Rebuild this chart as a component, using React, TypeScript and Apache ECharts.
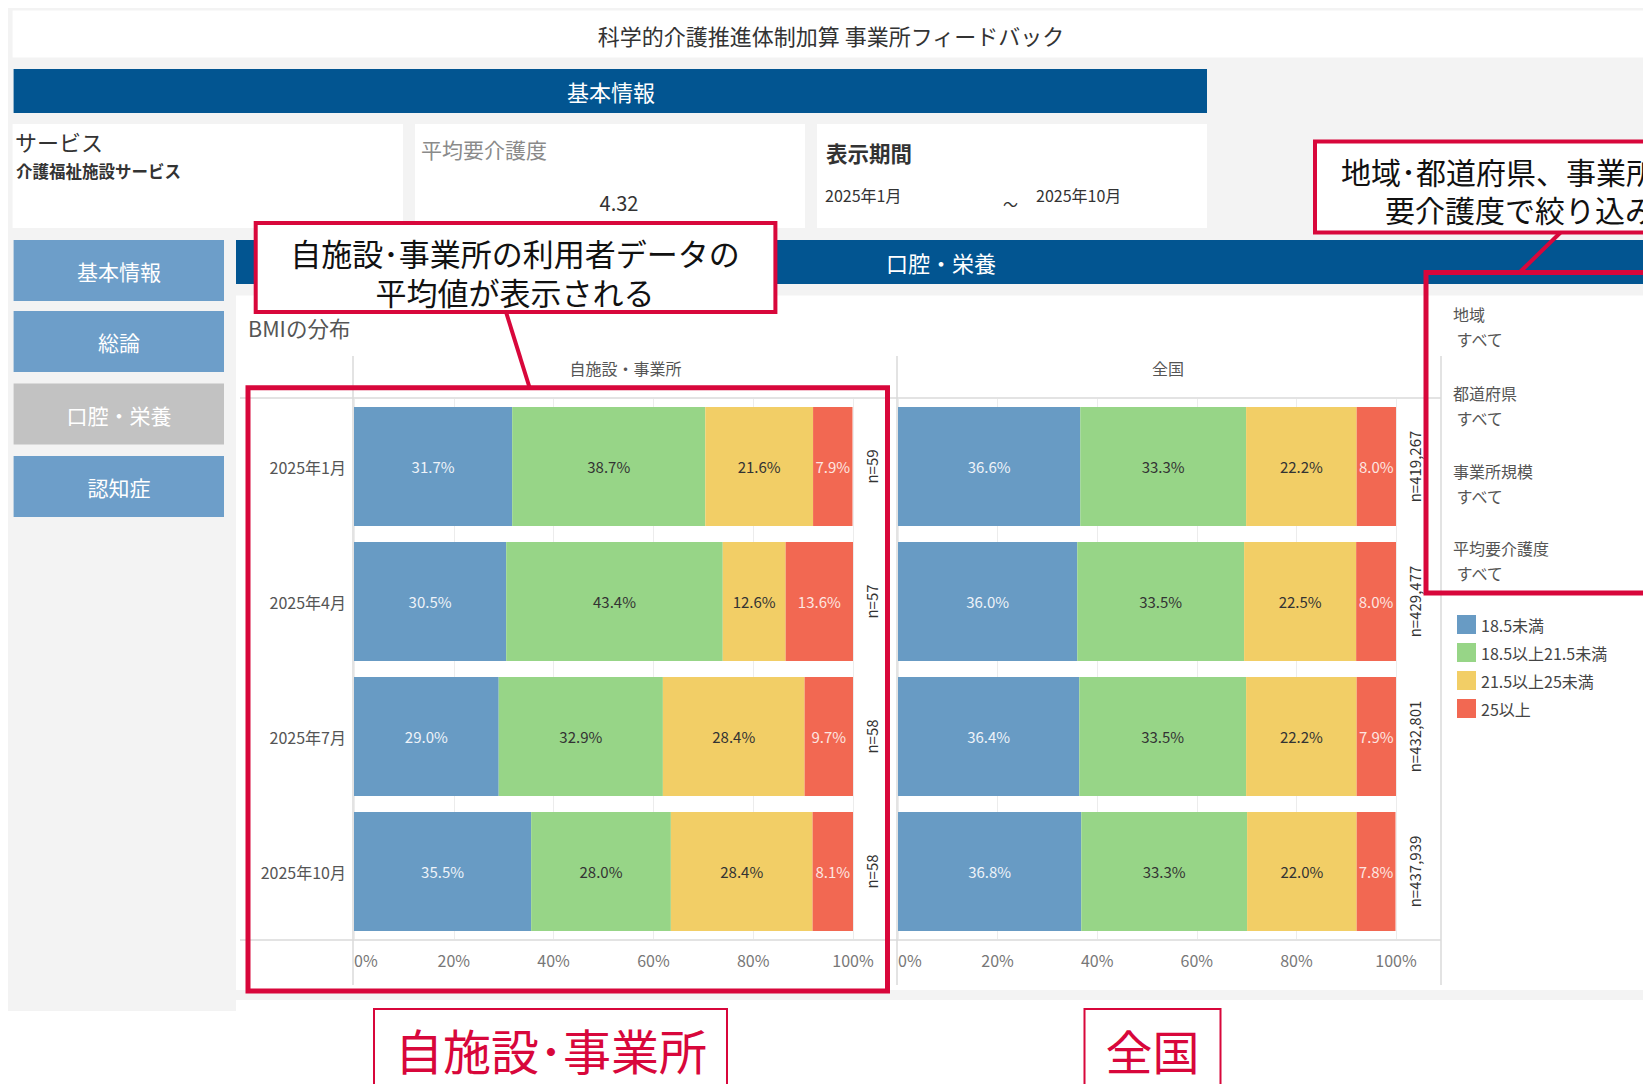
import React, { useEffect, useRef } from "react";
import * as echarts from "echarts";

const FONT = "'Noto Sans CJK JP', 'Noto Sans', sans-serif";

// ---- data ----
const months = ["2025年1月", "2025年4月", "2025年7月", "2025年10月"];
const bmiClasses = ["18.5未満", "18.5以上21.5未満", "21.5以上25未満", "25以上"];
const classColors = ["#689bc4", "#97d587", "#f2ce66", "#f26852"];
const labelColors = ["#eef3f9", "#333333", "#333333", "#fde6e1"];

const ownUnder185 = [31.7, 30.5, 29.0, 35.5];
const own185to215 = [38.7, 43.4, 32.9, 28.0];
const own215to25 = [21.6, 12.6, 28.4, 28.4];
const own25plus = [7.9, 13.6, 9.7, 8.1];
const ownN = [59, 57, 58, 58];

const natUnder185 = [36.6, 36.0, 36.4, 36.8];
const nat185to215 = [33.3, 33.5, 33.5, 33.3];
const nat215to25 = [22.2, 22.5, 22.2, 22.0];
const nat25plus = [8.0, 8.0, 7.9, 7.8];
const natN = [419267, 429477, 432801, 437939];

const facetNames = ["自施設・事業所", "全国"];
const navItems = ["基本情報", "総論", "口腔・栄養", "認知症"];
const filterNames = ["地域", "都道府県", "事業所規模", "平均要介護度"];
const filterValues = ["すべて", "すべて", "すべて", "すべて"];

const RED = "#d8073b";

function txt(x: number, y: number, t: string, o: any = {}) {
  return {
    type: "text",
    z: o.z ?? 5,
    x,
    y,
    style: {
      text: t,
      fill: o.color ?? "#333",
      fontSize: o.size ?? 15,
      fontWeight: o.weight ?? "normal",
      fontFamily: FONT,
      textAlign: o.align ?? "left",
      textVerticalAlign: "middle",
    },
  };
}
function box(x: number, y: number, w: number, h: number, fill: string, z = -10, extra: any = {}) {
  return { type: "rect", z, shape: { x, y, width: w, height: h }, style: { fill, ...extra } };
}
function ln(x1: number, y1: number, x2: number, y2: number, color: string, w: number, z = 1) {
  return { type: "line", z, shape: { x1, y1, x2, y2 }, style: { stroke: color, lineWidth: w } };
}

function buildOption() {
  const ownSets = [ownUnder185, own185to215, own215to25, own25plus];
  const natSets = [natUnder185, nat185to215, nat215to25, nat25plus];
  const mkSeries = (sets: number[][], stack: string, xi: number, yi: number) =>
    sets.map((d, i) => ({
      name: bmiClasses[i],
      type: "bar",
      stack,
      xAxisIndex: xi,
      yAxisIndex: yi,
      data: d,
      barCategoryGap: "12%",
      itemStyle: { color: classColors[i] },
      label: {
        show: true,
        position: "inside",
        formatter: (p: any) => p.value.toFixed(1) + "%",
        color: labelColors[i],
        fontSize: 15,
        fontFamily: FONT,
      },
    }));

  const xAxisBase = (gi: number) => ({
    type: "value",
    gridIndex: gi,
    min: 0,
    max: 100,
    interval: 20,
    axisLine: { show: false },
    axisTick: { show: false },
    splitLine: { show: true, lineStyle: { color: "#ececec", width: 1 } },
    axisLabel: {
      formatter: "{value}%",
      color: "#777",
      fontSize: 16,
      fontFamily: FONT,
      margin: 13,
      alignMinLabel: "left",
    },
  });
  const catAxis = (gi: number, showLabel: boolean) => ({
    type: "category",
    gridIndex: gi,
    data: months,
    inverse: true,
    position: "left",
    axisLine: { show: false },
    axisTick: { show: false },
    axisLabel: { show: showLabel, color: "#555", fontSize: 16, fontFamily: FONT, margin: 8 },
  });
  const nAxis = (gi: number, ns: number[]) => ({
    type: "category",
    gridIndex: gi,
    data: ns.map((n) => "n=" + n.toLocaleString("en-US")),
    inverse: true,
    position: "right",
    axisLine: { show: false },
    axisTick: { show: false },
    axisLabel: { rotate: 90, color: "#333", fontSize: 15, fontFamily: FONT, margin: 11 },
  });

  const graphics: any[] = [
    // backgrounds
    box(8, 8, 1635, 992, "#f3f3f3", -20),
    box(8, 8, 228, 1003, "#f3f3f3", -20),
    box(12.6, 10.5, 1631, 47, "#ffffff"),
    txt(831, 35, "科学的介護推進体制加算 事業所フィードバック", { size: 22, color: "#333", align: "center" }),
    box(13.6, 69, 1193.4, 44, "#025591"),
    txt(611, 91, "基本情報", { size: 22, color: "#ffffff", align: "center" }),
    box(12.6, 124, 390.4, 104, "#ffffff"),
    box(415, 124, 390, 104, "#ffffff"),
    box(817, 124, 390, 104, "#ffffff"),
    txt(15, 141, "サービス", { size: 22, color: "#333" }),
    txt(16, 171, "介護福祉施設サービス", { size: 16.5, color: "#333", weight: "bold" }),
    txt(421, 149, "平均要介護度", { size: 21, color: "#8a8a8a" }),
    txt(619, 202, "4.32", { size: 20, color: "#333", align: "center" }),
    txt(826, 152, "表示期間", { size: 21.5, color: "#333", weight: "bold" }),
    txt(825, 195, "2025年1月", { size: 16, color: "#333" }),
    txt(1003, 203, "～", { size: 15, color: "#333" }),
    txt(1036, 195, "2025年10月", { size: 16, color: "#333" }),
    // nav
    ...navItems.flatMap((t, i) => {
      const ys = [240, 311, 383.5, 456];
      const fill = i === 2 ? "#c2c2c2" : "#6d9ec9";
      return [box(13.6, ys[i], 210.4, 61, fill), txt(119, ys[i] + 31, t, { size: 21, color: "#ffffff", align: "center" })];
    }),
    // main panel
    box(236, 240, 1407, 44, "#025591"),
    txt(941, 262, "口腔・栄養", { size: 22, color: "#ffffff", align: "center" }),
    box(236, 295.5, 1407, 694.5, "#ffffff"),
    txt(248, 327, "BMIの分布", { size: 21.5, color: "#555" }),
    txt(625.5, 368, facetNames[0], { size: 16, color: "#555", align: "center" }),
    txt(1168, 368, facetNames[1], { size: 16, color: "#555", align: "center" }),
    ln(353, 356, 353, 985, "#dadada", 1.5),
    ln(897, 356, 897, 985, "#dadada", 1.5),
    ln(1441, 356, 1441, 985, "#dadada", 1.5),
    ln(240, 398, 1441, 398, "#dadada", 1.5),
    ln(240, 940, 1441, 940, "#dadada", 1.5),
    // filters
    ...filterNames.flatMap((t, i) => {
      const ys = [314, 393, 470.5, 548];
      return [
        txt(1453, ys[i], t, { size: 16, color: "#555" }),
        txt(1456.5, ys[i] + 25, filterValues[i], { size: 16, color: "#555" }),
      ];
    }),
    // annotations
    box(248, 387.7, 639.5, 603.3, "none", 100, { stroke: RED, lineWidth: 5 }),
    ln(506, 312, 530, 389, RED, 4, 100),
    box(255.7, 223, 519.7, 89, "#ffffff", 101, { stroke: RED, lineWidth: 4 }),
    txt(515, 252, "自施設･事業所の利用者データの", { size: 31, color: "#111", align: "center", z: 102 }),
    txt(515, 291, "平均値が表示される", { size: 31, color: "#111", align: "center", z: 102 }),
    box(1426, 272.4, 240, 320.6, "none", 100, { stroke: RED, lineWidth: 5 }),
    ln(1561, 232, 1519, 273, RED, 4, 100),
    box(1315, 141.5, 350, 91, "#ffffff", 101, { stroke: RED, lineWidth: 4 }),
    txt(1341, 171, "地域･都道府県、事業所規模･平均", { size: 30, color: "#111", z: 102 }),
    txt(1385, 209, "要介護度で絞り込みが可能", { size: 30, color: "#111", z: 102 }),
    box(374, 1009, 353, 90, "#ffffff", 101, { stroke: RED, lineWidth: 2 }),
    txt(551, 1049, "自施設･事業所", { size: 48, color: RED, align: "center", z: 102 }),
    box(1084.5, 1009, 136, 90, "#ffffff", 101, { stroke: RED, lineWidth: 2 }),
    txt(1152.6, 1049, facetNames[1], { size: 47, color: RED, align: "center", z: 102 }),
  ];

  return {
    animation: false,
    backgroundColor: "#ffffff",
    textStyle: { fontFamily: FONT },
    grid: [
      { left: 354, top: 399, width: 499, height: 540 },
      { left: 898, top: 399, width: 498, height: 540 },
    ],
    xAxis: [xAxisBase(0), xAxisBase(1)],
    yAxis: [catAxis(0, true), nAxis(0, ownN), catAxis(1, false), nAxis(1, natN)],
    legend: {
      data: bmiClasses,
      orient: "vertical",
      left: 1452,
      top: 610,
      icon: "rect",
      itemWidth: 19,
      itemHeight: 19,
      itemGap: 9,
      textStyle: { color: "#444", fontSize: 16, fontFamily: FONT },
    },
    graphic: { elements: graphics },
    series: [...mkSeries(ownSets, "own", 0, 0), ...mkSeries(natSets, "nat", 1, 2)],
  };
}

export default function App() {
  const ref = useRef<HTMLDivElement>(null);
  useEffect(() => {
    document.body.style.margin = "0";
    const chart = echarts.init(ref.current as HTMLDivElement, null, { renderer: "svg" });
    chart.setOption(buildOption() as any);
    return () => chart.dispose();
  }, []);
  return <div ref={ref} style={{ width: 1643, height: 1084 }} />;
}
